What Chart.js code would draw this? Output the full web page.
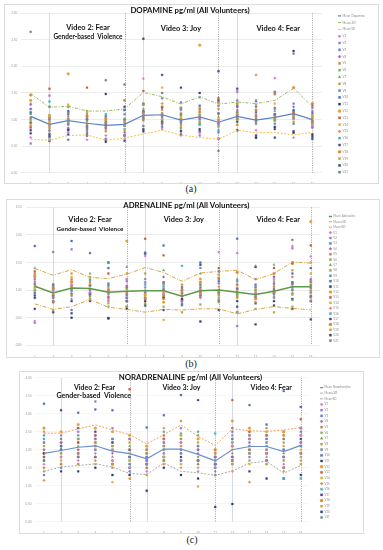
<!DOCTYPE html>
<html><head><meta charset="utf-8">
<script src="https://cdn.jsdelivr.net/npm/chart.js@4.4.1/dist/chart.umd.min.js"></script>
<style>
body{margin:0;background:#fff;width:383px;height:550px;position:relative;overflow:hidden}
.box{position:absolute;outline:1px solid #dcdcdc;background:#fff}
.box canvas{position:absolute;left:0;top:0}
.cap{position:absolute;width:40px;text-align:center;font:10px "Liberation Serif",serif;color:#222}
</style></head><body>
<div class="box" style="left:5px;top:5px;width:373px;height:178px"><canvas id="cA" width="373" height="178"></canvas></div>
<div class="cap" style="left:171px;top:183px">(a)</div>
<div class="box" style="left:7px;top:200px;width:372px;height:157px"><canvas id="cB" width="372" height="157"></canvas></div>
<div class="cap" style="left:171px;top:358px">(b)</div>
<div class="box" style="left:20px;top:372px;width:343px;height:161px"><canvas id="cC" width="343" height="161"></canvas></div>
<div class="cap" style="left:172px;top:534px">(c)</div>
<script>
const xLabels = ['1','2','3','4','5','6','7','8','9','10','11','12','13','14','15','16'];
const volunteerNames = ['V1','V2','V3','V4','V5','V6','V7','V8','V9','V10','V11','V12','V13','V14','V15','V16','V17','V18','V19','V20','V21'];
const annotationTexts = ['Video 2: Fear','Gender-based  Violence','Video 3: Joy','Video 4: Fear'];

// (a) Dopamine
const dopamineMean  = [1.06,0.91,0.98,0.93,0.89,0.91,1.08,1.09,0.99,1.05,0.95,1.06,0.99,1.04,1.11,1.00];
const dopaminePlus  = [1.49,1.23,1.25,1.16,1.16,1.20,1.51,1.43,1.29,1.43,1.29,1.33,1.30,1.36,1.59,1.24];
const dopamineMinus = [0.63,0.61,0.70,0.71,0.61,0.65,0.73,0.80,0.71,0.66,0.63,0.80,0.75,0.76,0.71,0.76];
const dopamineVolunteers = [
[0.66,0.62,0.76,0.62,0.70,0.64,1.77,0.82,0.70,0.75,0.64,1.55,0.80,1.78,0.66,0.90],
[0.55,1.45,0.84,0.80,0.64,0.70,1.14,1.04,0.98,0.70,0.92,1.52,1.06,1.20,1.02,0.85],
[1.20,1.00,1.12,1.02,0.94,1.10,1.30,1.40,1.32,1.42,1.26,1.36,0.98,1.52,1.30,1.22],
[1.28,0.80,0.90,0.86,0.84,0.76,1.05,0.90,1.18,1.02,0.94,1.18,1.34,1.22,1.24,1.16],
[1.04,0.88,1.02,1.08,0.78,0.94,1.00,1.12,0.90,1.20,0.98,1.02,1.10,1.06,1.10,0.96],
[0.98,0.84,0.96,0.90,0.96,0.88,1.10,1.08,1.00,1.08,0.88,1.00,0.95,1.00,1.06,1.04],
[1.10,0.74,1.06,0.82,0.86,1.02,0.98,0.95,0.84,1.10,1.05,1.14,1.02,1.16,1.02,0.94],
[0.92,0.78,1.00,1.12,1.00,0.88,1.20,1.10,1.12,0.96,1.20,0.90,1.28,0.98,0.96,1.08],
[1.02,0.66,0.92,0.76,0.88,1.00,1.02,0.86,0.94,1.00,0.76,1.08,0.92,0.92,0.92,0.98],
[1.14,1.24,1.16,1.00,1.06,1.18,1.16,1.22,1.10,1.26,1.12,1.24,1.14,1.10,1.18,1.12],
[0.74,0.60,0.80,0.70,0.58,0.70,0.78,0.96,0.78,0.82,0.64,0.80,0.66,0.86,0.75,0.72],
[1.36,0.96,1.86,1.00,0.94,0.98,1.14,1.00,1.02,2.40,1.00,1.10,1.06,1.08,1.08,0.96],
[0.85,1.58,1.10,1.60,0.90,1.18,1.54,1.08,0.96,1.06,1.40,1.14,1.00,1.10,1.14,1.26],
[1.20,1.08,1.28,0.96,0.82,0.80,1.30,1.60,0.80,1.22,0.86,0.90,1.00,1.30,1.08,0.94],
[0.88,0.92,1.14,0.92,0.98,0.94,1.08,1.30,0.86,1.18,1.10,1.00,1.84,1.52,1.04,1.02],
[1.12,1.34,1.00,0.94,1.10,0.82,1.12,1.06,1.20,0.90,0.80,1.02,1.36,0.98,1.16,0.90],
[0.80,0.72,0.82,0.72,0.62,0.60,0.82,1.84,0.72,0.78,1.91,0.96,0.70,0.82,0.78,0.68],
[1.46,1.04,1.24,1.06,1.02,1.36,1.28,1.24,1.22,1.14,1.32,1.30,1.18,1.48,1.60,1.30],
[1.30,1.02,0.94,1.16,0.92,0.90,1.04,1.18,1.06,0.94,0.92,1.02,0.96,1.00,1.10,1.06],
[0.94,0.68,0.72,0.88,1.48,1.24,2.52,0.94,1.60,1.50,1.36,1.58,0.66,0.66,2.29,0.64],
[2.65,1.08,0.62,0.84,1.74,1.66,0.88,1.50,1.10,0.92,0.41,1.26,1.24,1.02,2.24,0.86]];

// (b) Adrenaline
const adrenalineMean  = [1.07,0.95,1.04,1.03,0.96,0.98,0.99,0.99,0.89,0.99,1.00,0.96,0.92,0.98,1.06,1.06];
const adrenalinePlus  = [1.39,1.27,1.37,1.23,1.21,1.29,1.41,1.32,1.16,1.31,1.34,1.36,1.19,1.30,1.51,1.49];
const adrenalineMinus = [0.75,0.65,0.70,0.83,0.69,0.65,0.60,0.65,0.64,0.66,0.66,0.57,0.65,0.70,0.67,0.64];
const adrenalineVolunteers = [
[0.44,1.00,1.10,0.96,0.82,1.20,1.62,0.94,0.88,1.00,1.69,1.67,0.96,1.20,1.80,1.61],
[0.41,1.69,1.74,1.00,0.94,0.86,1.05,1.10,0.80,1.40,0.82,0.35,0.90,0.86,1.76,0.80],
[1.12,0.90,1.00,1.08,1.12,0.90,0.96,1.00,0.76,1.10,1.00,1.02,1.06,1.12,1.00,1.08],
[1.20,0.86,0.94,1.02,0.88,1.08,1.20,1.24,0.94,0.90,1.12,0.96,0.88,0.94,1.10,1.20],
[1.30,1.02,1.20,1.14,1.00,0.94,0.86,0.84,1.00,0.96,0.94,0.88,0.78,1.06,1.24,0.96],
[1.00,0.80,1.06,0.90,0.76,1.02,1.30,1.12,0.90,1.08,0.86,0.92,1.00,0.88,0.92,1.00],
[1.40,1.04,0.84,1.30,1.10,1.42,0.74,1.36,0.72,1.30,1.20,1.20,1.44,1.46,0.82,1.14],
[1.08,0.64,0.92,1.24,0.70,0.70,0.96,0.70,0.60,0.74,0.78,0.60,0.66,0.60,0.70,0.86],
[0.96,1.10,0.64,0.96,1.08,1.16,1.14,1.02,1.06,1.00,0.96,1.16,0.92,1.00,1.12,0.90],
[1.80,1.00,1.89,1.67,1.40,0.80,1.68,1.81,1.00,1.50,1.16,1.93,1.10,1.24,1.30,1.40],
[0.66,0.80,0.50,0.92,0.49,0.66,0.80,0.86,0.84,0.43,0.80,0.80,0.38,0.80,1.14,0.88],
[1.24,1.04,1.16,1.08,0.98,1.89,0.92,0.78,0.96,1.20,1.28,1.04,0.86,0.96,0.94,2.24],
[1.34,0.78,1.14,1.02,1.30,1.06,1.93,1.63,1.00,1.04,1.40,1.10,1.20,1.40,1.50,1.81],
[1.10,0.96,1.24,0.86,0.92,1.20,1.00,0.46,0.90,0.92,0.92,0.86,0.98,1.10,1.06,1.30],
[1.16,0.92,0.98,1.10,1.04,0.96,0.90,0.96,1.10,0.86,1.06,0.98,0.94,0.98,1.00,1.10],
[1.00,0.86,1.02,1.18,1.49,1.04,1.10,1.06,1.44,0.98,0.90,0.92,1.00,0.92,1.04,0.96],
[0.90,1.10,0.58,0.80,0.49,0.70,0.72,0.64,0.74,0.92,0.64,0.70,0.76,0.72,0.66,0.80],
[1.26,0.90,1.08,0.94,0.86,0.80,0.86,0.90,0.82,1.14,1.22,1.32,0.84,1.30,1.48,1.16],
[1.04,0.96,1.30,1.20,0.80,1.30,0.76,0.88,0.90,0.94,1.00,0.94,1.04,1.16,1.36,1.50],
[0.86,0.60,0.80,0.90,1.50,0.86,1.66,1.14,0.80,1.46,1.34,0.60,1.42,0.94,0.84,0.47],
[0.94,1.06,0.90,0.84,1.00,0.92,0.84,0.92,1.04,0.88,0.96,1.02,0.86,1.02,1.91,1.04]];

// (c) Noradrenaline
const noradrenalineMean  = [1.90,1.98,2.07,2.11,1.96,1.89,1.75,2.02,2.02,1.87,1.69,2.00,2.09,2.09,1.95,2.12];
const noradrenalinePlus  = [2.46,2.46,2.58,2.69,2.55,2.42,2.16,2.42,2.69,2.37,2.12,2.58,2.53,2.51,2.55,2.62];
const noradrenalineMinus = [1.40,1.52,1.56,1.61,1.52,1.34,1.31,1.63,1.40,1.36,1.29,1.41,1.63,1.68,1.35,1.56];
const noradrenalineVolunteers = [
[1.60,1.80,1.70,1.90,1.70,1.50,1.40,1.90,2.20,1.50,1.50,2.10,2.30,1.90,1.60,2.40],
[2.20,2.40,2.50,3.34,2.60,2.30,1.60,2.20,1.70,1.90,1.30,2.40,1.80,2.20,1.80,2.60],
[1.30,1.50,1.80,2.00,1.70,1.60,1.80,1.90,2.00,1.70,1.60,2.50,2.20,2.30,2.00,2.10],
[2.00,2.20,2.00,2.30,1.90,1.40,1.70,2.30,2.60,2.00,1.80,1.80,2.50,1.70,1.80,2.20],
[1.50,1.60,1.90,2.10,2.00,2.30,2.00,2.20,2.10,2.40,2.00,1.70,2.00,2.60,1.70,1.90],
[2.10,1.90,2.30,2.20,2.10,1.90,1.90,2.00,2.30,1.80,1.70,2.20,1.90,2.00,2.20,2.10],
[1.70,2.00,2.10,1.80,1.80,2.10,1.50,1.70,1.90,1.60,1.40,1.90,2.10,1.80,1.90,1.80],
[1.40,1.90,1.60,1.60,1.50,1.60,1.30,2.10,1.60,1.40,1.90,1.60,1.70,1.60,1.50,1.60],
[2.40,2.30,2.40,2.30,2.30,1.80,2.00,2.00,1.90,2.10,1.60,2.30,2.40,2.40,2.30,2.50],
[3.28,2.10,3.03,3.12,3.10,2.00,2.62,2.96,3.52,1.70,1.80,2.60,3.24,2.70,3.63,3.19],
[1.90,1.40,1.40,1.50,1.30,1.30,0.86,1.50,1.30,1.20,0.41,0.49,1.40,1.20,1.50,1.30],
[2.60,2.50,2.70,2.60,2.50,2.40,2.10,2.30,2.40,2.30,2.00,2.80,2.60,2.50,2.50,2.60],
[1.80,2.10,2.20,2.40,2.30,3.68,1.80,2.40,2.30,2.10,1.90,3.38,2.30,2.10,2.50,2.85],
[2.00,1.70,2.00,2.10,1.10,1.70,1.70,1.80,2.00,0.98,1.70,2.00,1.60,2.20,2.30,2.00],
[1.15,1.60,1.60,1.70,1.60,1.20,1.50,1.60,1.50,1.60,1.30,1.40,1.10,1.60,1.40,1.70],
[2.30,2.10,2.20,2.10,2.00,1.70,1.60,2.50,2.45,2.50,2.45,2.20,2.30,2.30,1.20,1.20],
[1.80,3.10,2.60,2.50,2.20,1.80,1.60,2.10,1.80,2.00,1.60,1.70,2.00,1.90,1.20,2.30],
[1.90,2.20,1.80,2.20,1.60,2.00,1.90,1.70,2.20,1.70,1.60,2.10,2.50,2.40,2.40,2.40],
[2.50,1.80,2.30,2.00,2.20,2.20,1.70,2.60,2.80,2.20,1.80,2.30,2.40,1.90,2.10,3.19],
[1.70,2.00,1.90,1.80,1.60,1.50,1.60,1.80,1.70,3.38,1.50,1.80,1.90,1.70,1.80,1.90],
[2.20,2.00,2.30,2.40,2.10,1.80,1.70,1.80,1.90,1.70,1.80,1.60,2.10,2.00,2.00,2.20]];

const volColors = ['#d878d0','#9a7cc4','#6d7fd2','#a069c9','#c8844c','#98a85c','#6a9b58','#b3a544','#7088a8','#4f6fb8','#2e3d6c','#e2a132','#c45a3c','#d6b236','#e88c3e','#3fb2ba','#3b4a8c','#da8a3c','#c9a142','#2e4a7c','#7b7b8b'];
const volStyles = ['rectRot','rect','rect','rectRot','rect','rect','triangle','rect','rect','rect','rect','circle','rect','rect','rectRot','rect','rect','circle','rect','rect','rect'];

const overlay = {
  id: 'overlay',
  beforeDatasetsDraw(chart, args, o) {
    const {ctx, chartArea: a} = chart;
    const xs = chart.scales.x;
    ctx.save();
    ctx.lineWidth = 0.8;
    ctx.strokeStyle = '#c9d0e2';
    ctx.setLineDash([]);
    [1, 6, 11].forEach(i => {
      const x = Math.round(xs.getPixelForValue(i)) + 0.5;
      ctx.beginPath(); ctx.moveTo(x, a.top); ctx.lineTo(x, a.bottom); ctx.stroke();
    });
    ctx.strokeStyle = '#8c8c8c';
    ctx.setLineDash([1, 1.3]);
    [5, 10, 15].forEach(i => {
      const x = Math.round(xs.getPixelForValue(i)) + 0.5;
      ctx.beginPath(); ctx.moveTo(x, a.top); ctx.lineTo(x, a.bottom); ctx.stroke();
    });
    ctx.restore();
  },
  afterDatasetsDraw(chart, args, o) {
    const {ctx} = chart;
    const xs = chart.scales.x, ys = chart.scales.y;
    ctx.save();
    ctx.fillStyle = '#111';
    ctx.textAlign = 'center';
    ctx.textBaseline = 'middle';
    o.notes.forEach((n, k) => {
      ctx.font = 'bold ' + n.size + 'px Lato, sans-serif';
      ctx.fillText(annotationTexts[k], xs.getPixelForValue(n.x), ys.getPixelForValue(n.y));
    });
    ctx.restore();
  }
};

function build(id, o) {
  const datasets = [
    {label: o.meanLabel, data: o.mean, borderColor: o.meanColor, backgroundColor: o.meanColor, borderWidth: o.meanWidth, pointRadius: 0, pointStyle: 'line', fill: false},
    {label: 'Mean+SD', data: o.plus, borderColor: o.plusColor, backgroundColor: o.plusColor, borderWidth: 1, borderDash: o.plusDash, pointRadius: 0, pointStyle: 'line', fill: false},
    {label: 'Mean-SD', data: o.minus, borderColor: o.minusColor, backgroundColor: o.minusColor, borderWidth: 1, borderDash: o.minusDash, pointRadius: 0, pointStyle: 'line', fill: false}
  ];
  o.vols.forEach((v, i) => datasets.push({
    label: volunteerNames[i], data: v, showLine: false, pointRadius: 1.35, pointStyle: volStyles[i],
    backgroundColor: volColors[i], borderColor: volColors[i], borderWidth: 0.3
  }));
  const tickFont = {family: 'Lato', size: 3};
  return new Chart(document.getElementById(id), {
    type: 'line',
    data: {labels: xLabels, datasets},
    plugins: [overlay],
    options: {
      responsive: false, animation: false, devicePixelRatio: 1, events: [],
      layout: {padding: {left: 0, right: o.padRight, top: 0, bottom: 0}},
      scales: {
        x: {offset: true, grid: {display: false}, border: {display: false},
            ticks: {font: tickFont, color: '#a0a0a0', padding: 2, maxRotation: 0, autoSkip: false},
            afterFit(s) { s.height = o.xH; }},
        y: {min: o.yMin, max: o.yMax, grid: {color: o.gridColor, drawTicks: false}, border: {display: false},
            ticks: {stepSize: o.step, font: tickFont, color: '#a0a0a0', padding: 4, callback: v => v.toFixed(2)},
            afterFit(s) { s.width = o.yW; }},
        gap: {type: 'linear', position: 'right', display: true, grid: {display: false}, border: {display: false},
              ticks: {display: false}, afterFit(s) { s.width = o.gap; }}
      },
      plugins: {
        title: {display: true, text: o.title, color: '#111', font: {family: 'Lato', weight: 'bold', size: 7.8},
                padding: {top: o.tTop, bottom: o.tBottom}},
        legend: {display: true, position: 'right', align: 'center',
                 labels: {usePointStyle: true, font: {family: 'Lato', size: o.legFont}, color: '#8a8a8a', padding: o.legPad, boxWidth: 3.2, boxHeight: 2.2}},
        tooltip: {enabled: false},
        overlay: {notes: o.notes}
      }
    }
  });
}

build('cA', {
  title: 'DOPAMINE pg/ml (All Volunteers)', meanLabel: 'Mean_Dopamine',
  mean: dopamineMean, plus: dopaminePlus, minus: dopamineMinus, vols: dopamineVolunteers,
  meanColor: '#5b84c8', meanWidth: 1.2, plusColor: '#9bbb59', plusDash: [3, 1.5, 1, 1.5], minusColor: '#f5c242', minusDash: [2, 1.5],
  yMin: 0, yMax: 3, step: 0.5, gridColor: '#ececec',
  yW: 16.3, xH: 10.3, gap: 12.5, padRight: 3, tTop: 0.4, tBottom: -1.5, legFont: 3.0, legPad: 3.8,
  notes: [{x: 3.05, y: 2.73, size: 7.4}, {x: 3.05, y: 2.55, size: 6.5}, {x: 8.0, y: 2.71, size: 7.4}, {x: 13.18, y: 2.71, size: 7.4}]
});
build('cB', {
  title: 'ADRENALINE pg/ml (All Volunteers)', meanLabel: 'Mean_Adrenaline',
  mean: adrenalineMean, plus: adrenalinePlus, minus: adrenalineMinus, vols: adrenalineVolunteers,
  meanColor: '#5e9a45', meanWidth: 1.5, plusColor: '#d9a440', plusDash: [4, 1.5, 1, 1.5], minusColor: '#d9a440', minusDash: [4, 1.5, 1, 1.5],
  yMin: 0, yMax: 2.5, step: 0.5, gridColor: '#ececec',
  yW: 18.6, xH: 11.7, gap: 6.5, padRight: 13.5, tTop: 0.4, tBottom: -2.4, legFont: 2.9, legPad: 2.5,
  notes: [{x: 3.0, y: 2.27, size: 7.4}, {x: 3.0, y: 2.10, size: 6.3}, {x: 8.1, y: 2.27, size: 7.4}, {x: 13.23, y: 2.27, size: 7.4}]
});
build('cC', {
  title: 'NORADRENALINE pg/ml (All Volunteers)', meanLabel: 'Mean_Noradrenaline',
  mean: noradrenalineMean, plus: noradrenalinePlus, minus: noradrenalineMinus, vols: noradrenalineVolunteers,
  meanColor: '#6a8fd0', meanWidth: 1.2, plusColor: '#f4a15a', plusDash: [2, 1.5], minusColor: '#a8a8a8', minusDash: [2, 1.5],
  yMin: 0, yMax: 4, step: 0.5, gridColor: '#f6f6f6',
  yW: 15.4, xH: 11.3, gap: 8, padRight: 2, tTop: 0, tBottom: -4.3, legFont: 2.9, legPad: 2.75,
  notes: [{x: 2.95, y: 3.72, size: 7}, {x: 2.91, y: 3.50, size: 7}, {x: 8.03, y: 3.72, size: 7}, {x: 13.27, y: 3.72, size: 7}]
});
</script>
</body></html>
